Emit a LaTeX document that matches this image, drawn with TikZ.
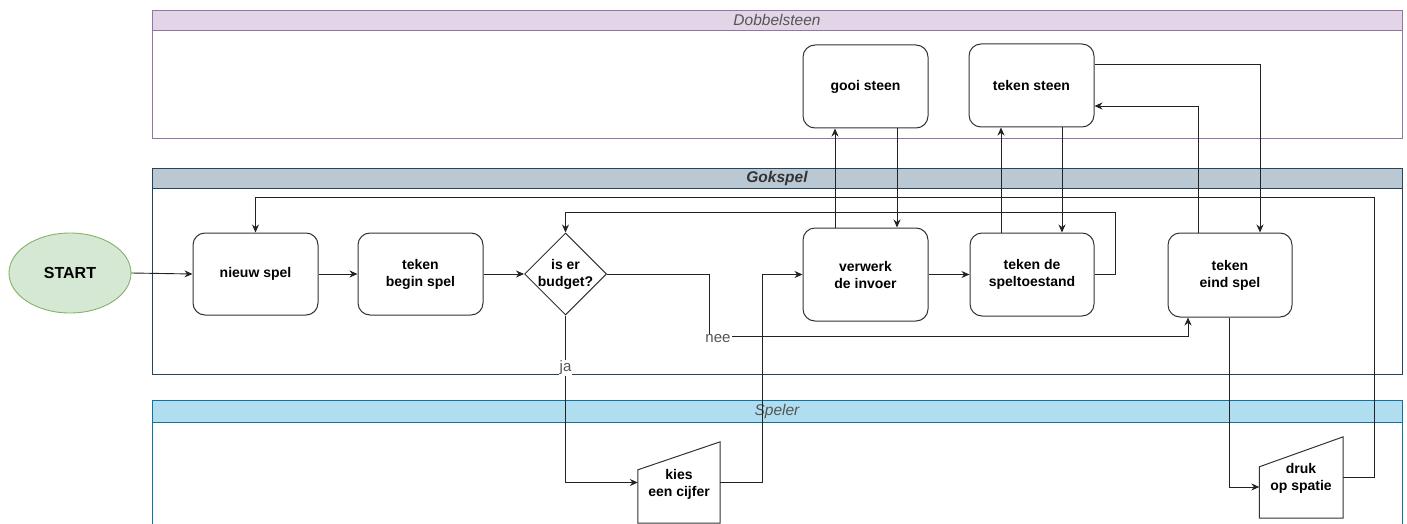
\documentclass[tikz,border=0pt]{standalone}
\usepackage{fontspec}
\setmainfont{Liberation Sans}
\usetikzlibrary{shapes.geometric,arrows.meta}
\definecolor{dobfill}{HTML}{E1D5E7}
\definecolor{dobline}{HTML}{9673A6}
\definecolor{gokfill}{HTML}{BAC8D3}
\definecolor{gokline}{HTML}{23445D}
\definecolor{spefill}{HTML}{B1DDF0}
\definecolor{speline}{HTML}{10739E}
\definecolor{startfill}{HTML}{D5E8D4}
\definecolor{startline}{HTML}{82B366}
\definecolor{linec}{HTML}{222222}
\definecolor{boxline}{HTML}{333333}
\definecolor{titlegray}{HTML}{555555}
\begin{document}
\begin{tikzpicture}[x=1pt,y=-1pt,
  nodefont/.style={font=\bfseries\fontsize{14}{17}\selectfont},
  proc/.style={draw=boxline, fill=white, rounded corners=12pt, line width=1pt, align=center, nodefont, inner sep=0pt},
  plain/.style={align=center, nodefont, inner sep=0pt},
  flow/.style={draw=linec, line width=0.9pt, -{Stealth[length=8pt,width=7pt]}},
  lbl/.style={fill=white, text=titlegray, font=\fontsize{15}{17}\selectfont, inner sep=1pt},
  lanetitle/.style={font=\itshape\fontsize{15.5}{18}\selectfont, text=titlegray}
]
\useasboundingbox (0,0) rectangle (1407,524);
\clip (0,0) rectangle (1407,524);

% lanes
\draw[dobline, line width=0.8pt] (152,10) rectangle (1402,138);
\draw[dobline, fill=dobfill, line width=0.8pt] (152,10) rectangle (1402,30);
\node[lanetitle] (tdob) at (777,20) {Dobbelsteen};

\draw[gokline, line width=0.8pt] (152,168) rectangle (1402,374);
\draw[gokline, fill=gokfill, line width=0.8pt] (152,168) rectangle (1402,188);
\node[lanetitle, font=\bfseries\itshape\fontsize{15.5}{18}\selectfont, text=boxline] (tgok) at (777,178) {Gokspel};

\draw[speline, line width=0.8pt] (152,400) rectangle (1402,540);
\draw[speline, fill=spefill, line width=0.8pt] (152,400) rectangle (1402,422);
\node[lanetitle] (tspe) at (777,411) {Speler};

% nodes
\node[ellipse, draw=startline, fill=startfill, line width=0.9pt, minimum width=122pt, minimum height=80pt, inner sep=0pt, font=\bfseries\fontsize{16}{19}\selectfont] (start) at (70,273) {START};
\node[proc, minimum width=125pt, minimum height=82pt] (nieuw) at (255.5,274) {nieuw spel};
\node[proc, minimum width=125pt, minimum height=82pt] (begin) at (420.5,274) {teken\\begin spel};
\node[diamond, draw=boxline, fill=white, line width=1pt, minimum width=82pt, minimum height=82pt, inner sep=0pt] (budget) at (565.5,274) {};
\node[plain] (budgettext) at (565.5,274) {is er\\budget?};
\node[proc, minimum width=125pt, minimum height=93pt] (verwerk) at (865.5,274.5) {verwerk\\de invoer};
\node[proc, minimum width=124pt, minimum height=83pt] (toestand) at (1032,274.5) {teken de\\speltoestand};
\node[proc, minimum width=124pt, minimum height=84pt] (eind) at (1230,275) {teken\\eind spel};
\node[proc, minimum width=125pt, minimum height=83pt] (gooi) at (865.5,86.5) {gooi steen};
\node[proc, minimum width=125pt, minimum height=83pt] (steen) at (1031.5,85.5) {teken steen};

% manual input shapes
\node[plain, minimum width=82pt, minimum height=81pt] (kies) at (679,482.5) {};
\draw[boxline, fill=white, line width=1pt] (kies.south west) -- (kies.south east) -- (kies.north east) -- ([yshift=-28pt]kies.north west) -- cycle;
\node[plain] (kiestext) at (679,484) {kies\\een cijfer};
\node[plain, minimum width=83.5pt, minimum height=81pt] (druk) at (1301.25,477.5) {};
\draw[boxline, fill=white, line width=1pt] (druk.south west) -- (druk.south east) -- (druk.north east) -- ([yshift=-30pt]druk.north west) -- cycle;
\node[plain] (druktext) at (1301,478) {druk\\op spatie};

% connectors
\draw[flow] (start.east) -- (nieuw.west);
\draw[flow] (nieuw.east) -- (begin.west);
\draw[flow] (begin.east) -- (budget.west);
\draw[flow] (budget.east) -- (709,274) -- (709,336) -- (1188,336) -- ([xshift=-42pt]eind.south);
\node[lbl] (nee) at (718,339) {nee};
\draw[flow] (budget.south) -- (565.5,482.5) -- (kies.west);
\node[lbl] (ja) at (565.5,368) {ja};
\draw[flow] (kies.east) -- (762,482.5) -- (762,274.5) -- (verwerk.west);
\draw[flow] (verwerk.east) -- (toestand.west);
\draw[flow] ([xshift=-30.5pt]verwerk.north) -- ([xshift=-30.5pt]gooi.south);
\draw[flow] ([xshift=31.5pt]gooi.south) -- ([xshift=31.5pt]verwerk.north);
\draw[flow] ([xshift=-31pt]toestand.north) -- ([xshift=-30.5pt]steen.south);
\draw[flow] ([xshift=30.5pt]steen.south) -- ([xshift=30pt]toestand.north);
\draw[flow] (toestand.east) -- (1115,274.5) -- (1115,212) -- (565.5,212) -- (budget.north);
\draw[flow] ([yshift=21.5pt]steen.east) -- (1260,64) -- ([xshift=30pt]eind.north);
\draw[flow] ([xshift=-32pt]eind.north) -- (1198,106) -- ([yshift=-20.5pt]steen.east);
\draw[flow] ([xshift=-1pt]eind.south) -- (1229,487) -- ([yshift=-9.5pt]druk.west);
\draw[flow] (druk.east) -- (1374,477.5) -- (1374,197) -- (255.5,197) -- (nieuw.north);
\end{tikzpicture}
\end{document}
